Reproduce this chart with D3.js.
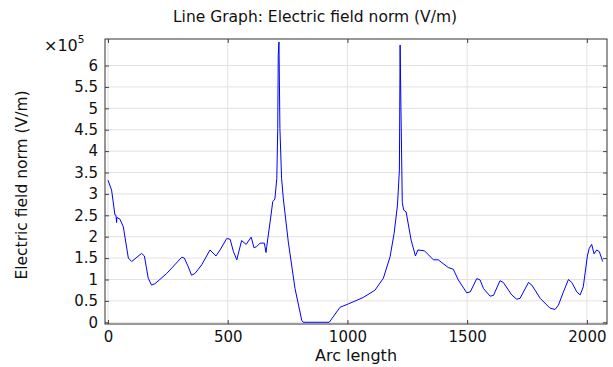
<!DOCTYPE html>
<html>
<head>
<meta charset="utf-8">
<script src="https://cdn.jsdelivr.net/npm/d3@7"></script>
<style>
  body { margin: 0; background: #fff; }
  text { font-family: "DejaVu Sans", sans-serif; fill: #111; }
  .grid line { stroke: #e2e2e2; }
  .axis line { stroke: #444; }
</style>
</head>
<body>
<div class="chart"></div>
<script>
// values (field in V/m)
const arcLength = [0, 15, 29, 33, 36, 37, 50, 64, 85, 99, 140, 152, 168, 182, 196, 245, 308, 319, 335, 349,
  363, 391, 426, 451, 468, 496, 510, 524, 538, 558, 577, 598, 610, 621, 635, 653, 660, 663, 681, 688,
  697, 705, 709, 711, 714, 718, 725, 732, 753, 781, 809, 815, 924, 969, 1004, 1066, 1115, 1150, 1178, 1195,
  1209, 1217, 1220, 1224, 1229, 1235, 1245, 1266, 1284, 1294, 1322, 1359, 1379, 1421, 1442, 1463, 1498, 1513, 1540, 1554,
  1568, 1596, 1610, 1637, 1651, 1686, 1707, 1721, 1756, 1770, 1805, 1846, 1867, 1881, 1902, 1923, 1937, 1958, 1972, 1985,
  2002, 2010, 2020, 2030, 2041, 2052, 2066];
const fieldNorm = [3.32, 3.09, 2.51, 2.50, 2.33, 2.45, 2.41, 2.23, 1.50, 1.42, 1.61, 1.55, 1.03, 0.87, 0.90, 1.14, 1.52, 1.50, 1.30, 1.10,
  1.14, 1.34, 1.69, 1.55, 1.69, 1.96, 1.94, 1.65, 1.46, 1.91, 1.82, 1.99, 1.74, 1.77, 1.85, 1.85, 1.63, 1.77, 2.51, 2.82,
  2.88, 3.36, 4.53, 6.24, 6.55, 4.53, 3.36, 2.90, 1.88, 0.79, 0.05, 0.0, 0.0, 0.35, 0.43, 0.58, 0.75, 1.03, 1.53, 2.08,
  2.74, 3.56, 6.48, 4.8, 2.8, 2.62, 2.58, 1.92, 1.55, 1.69, 1.67, 1.46, 1.46, 1.28, 1.24, 0.99, 0.69, 0.71, 1.02, 0.99,
  0.79, 0.61, 0.63, 0.97, 0.93, 0.64, 0.54, 0.56, 0.93, 0.87, 0.56, 0.33, 0.30, 0.40, 0.71, 1.00, 0.93, 0.71, 0.64, 0.83,
  1.55, 1.73, 1.82, 1.60, 1.69, 1.65, 1.42].map(v => v * 1e5);
const xTicks = [0, 500, 1000, 1500, 2000];
const yTicks = [0, 0.5, 1, 1.5, 2, 2.5, 3, 3.5, 4, 4.5, 5, 5.5, 6].map(v => v * 1e5);

const data = arcLength.map((s, i) => ({ s: s, e: fieldNorm[i] }));

const margin = ({ top: 39, right: 6, bottom: 43, left: 105 });
const width = 613 - margin.left - margin.right,
    height = 367 - margin.top - margin.bottom;
const svg = d3.select(".chart").append("svg")
    .attr("width", 613)
    .attr("height", 367);

const xScale = d3.scaleLinear().domain([-12.5, 2084]).range([0, width]);
const yScale = d3.scaleLinear().domain([-0.04e5, 6.62e5]).range([height, 0]);

const g = svg.append("g")
    .attr("transform", `translate(${margin.left},${margin.top})`);

// grid
g.append("g").attr("class", "grid")
    .selectAll("line").data(xTicks).join("line")
    .attr("x1", d => xScale(d)).attr("x2", d => xScale(d))
    .attr("y1", 0).attr("y2", height);
g.append("g").attr("class", "grid")
    .selectAll("line").data(yTicks).join("line")
    .attr("y1", d => yScale(d)).attr("y2", d => yScale(d))
    .attr("x1", 0).attr("x2", width);

// axes, ticks pointing inwards on all sides
const fmtY = d => d3.format("~g")(d / 1e5);
g.append("g").attr("class", "axis")
    .attr("transform", `translate(0,${height})`)
    .call(d3.axisBottom(xScale).tickValues(xTicks).tickSize(-4).tickPadding(7).tickFormat(d3.format("d")))
    .call(a => a.select(".domain").remove());
g.append("g").attr("class", "axis")
    .call(d3.axisTop(xScale).tickValues(xTicks).tickSize(-4).tickFormat(""))
    .call(a => a.select(".domain").remove());
g.append("g").attr("class", "axis")
    .call(d3.axisLeft(yScale).tickValues(yTicks).tickSize(-4).tickPadding(7).tickFormat(fmtY))
    .call(a => a.select(".domain").remove());
g.append("g").attr("class", "axis")
    .attr("transform", `translate(${width},0)`)
    .call(d3.axisRight(yScale).tickValues(yTicks).tickSize(-4).tickFormat(""))
    .call(a => a.select(".domain").remove());

g.selectAll(".axis text").attr("font-family", "DejaVu Sans").attr("font-size", 15).attr("fill", "#111");

// the curve
const line = d3.line().x(d => xScale(d.s)).y(d => yScale(d.e));
g.append("path")
    .datum(data)
    .attr("fill", "none")
    .attr("stroke", "#0000ff")
    .attr("stroke-width", 1)
    .attr("d", line);

// frame
g.append("rect")
    .attr("width", width).attr("height", height)
    .attr("fill", "none").attr("stroke", "#333").attr("stroke-width", 1);

// titles
svg.append("text")
    .attr("x", 315).attr("y", 22)
    .attr("text-anchor", "middle").attr("font-size", 15.5)
    .text("Line Graph: Electric field norm (V/m)");
svg.append("text")
    .attr("x", margin.left + width / 2).attr("y", 361)
    .attr("text-anchor", "middle").attr("font-size", 16)
    .text("Arc length");
svg.append("text")
    .attr("transform", `translate(27,185) rotate(-90)`)
    .attr("text-anchor", "middle").attr("font-size", 15.5)
    .text("Electric field norm (V/m)");
const exp = svg.append("text").attr("x", 44).attr("y", 51).attr("font-size", 16);
exp.append("tspan").text("×10");
exp.append("tspan").attr("font-size", 10.5).attr("dy", -8).text("5");
</script>
</body>
</html>
